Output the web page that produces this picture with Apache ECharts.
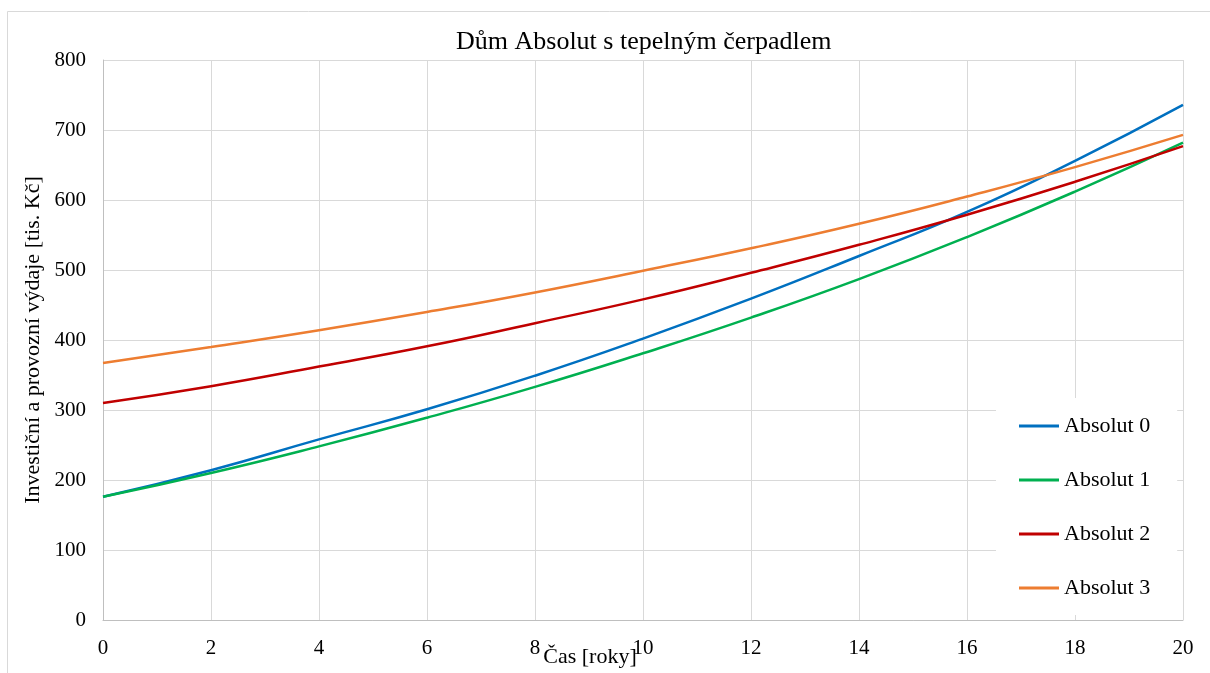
<!DOCTYPE html>
<html>
<head>
<meta charset="utf-8">
<script src="https://cdn.jsdelivr.net/npm/echarts@6/dist/echarts.min.js"></script>
<style>
html,body{margin:0;padding:0;background:#fff;}
#c{width:1210px;height:673px;}
</style>
</head>
<body>
<div id="c"></div>
<script>
const years = [0, 2, 4, 6, 8, 10, 12, 14, 16, 18, 20];
const seriesNames = ['Absolut 0', 'Absolut 1', 'Absolut 2', 'Absolut 3'];
const absolut0 = [176, 214, 258, 301, 349, 402, 459, 520, 583, 656, 736];
const absolut1 = [176, 210, 248, 289, 333, 381, 432, 487, 547, 612, 682];
const absolut2 = [310, 334, 362, 391, 424, 458, 496, 536, 579, 626, 677];
const absolut3 = [367, 390, 414, 440, 468, 499, 531, 566, 605, 647, 693];
const colors = ['#0070C0', '#00B050', '#C00000', '#ED7D31'];
const titleText = 'Dům Absolut s tepelným čerpadlem';
const xName = 'Čas [roky]';
const yName = 'Investiční a provozní výdaje [tis. Kč]';

const FONT = '"Liberation Serif", "Times New Roman", serif';
const allData = [absolut0, absolut1, absolut2, absolut3];

const chart = echarts.init(document.getElementById('c'), null, {renderer: 'canvas'});
chart.setOption({
  animation: false,
  backgroundColor: '#fff',
  textStyle: {fontFamily: FONT, color: '#000'},
  title: {
    text: titleText,
    left: 451,
    top: 24,
    textStyle: {fontFamily: FONT, fontSize: 26, fontWeight: 'normal', color: '#000'}
  },
  graphic: [{
    type: 'rect',
    shape: {x: 7.5, y: 11.5, width: 1220, height: 700},
    style: {fill: 'none', stroke: '#d9d9d9', lineWidth: 1},
    silent: true
  }],
  grid: {left: 103, right: 27, top: 60, bottom: 53, containLabel: false, outerBoundsMode: 'none'},
  legend: {
    orient: 'vertical',
    left: 996,
    top: 398,
    padding: [17, 27, 16, 23],
    backgroundColor: '#fff',
    itemGap: 32,
    itemWidth: 40,
    itemHeight: 3,
    icon: 'rect',
    data: seriesNames,
    textStyle: {fontFamily: FONT, fontSize: 22, lineHeight: 22, color: '#000'}
  },
  xAxis: {
    type: 'value',
    min: 0, max: 20, interval: 2,
    name: xName,
    nameLocation: 'middle',
    nameGap: 26,
    nameMoveOverlap: false,
    nameTextStyle: {fontFamily: FONT, fontSize: 22, color: '#000', padding: [0, 106, 0, 0]},
    axisLine: {show: true, lineStyle: {color: '#bfbfbf', width: 1}},
    axisTick: {show: false},
    axisLabel: {fontFamily: FONT, fontSize: 21, color: '#000', margin: 18},
    splitLine: {show: true, lineStyle: {color: '#d9d9d9', width: 1}}
  },
  yAxis: {
    type: 'value',
    min: 0, max: 800, interval: 100,
    name: yName,
    nameLocation: 'middle',
    nameGap: 59,
    nameMoveOverlap: false,
    nameTextStyle: {fontFamily: FONT, fontSize: 22, color: '#000'},
    axisLine: {show: true, lineStyle: {color: '#bfbfbf', width: 1}},
    axisTick: {show: false},
    axisLabel: {fontFamily: FONT, fontSize: 21, color: '#000', margin: 17},
    splitLine: {show: true, lineStyle: {color: '#d9d9d9', width: 1}}
  },
  series: seriesNames.map((n, i) => ({
    name: n,
    type: 'line',
    smooth: true,
    symbol: 'none',
    color: colors[i],
    lineStyle: {color: colors[i], width: 2.5},
    data: years.map((x, j) => [x, allData[i][j]])
  }))
});
</script>
</body>
</html>
